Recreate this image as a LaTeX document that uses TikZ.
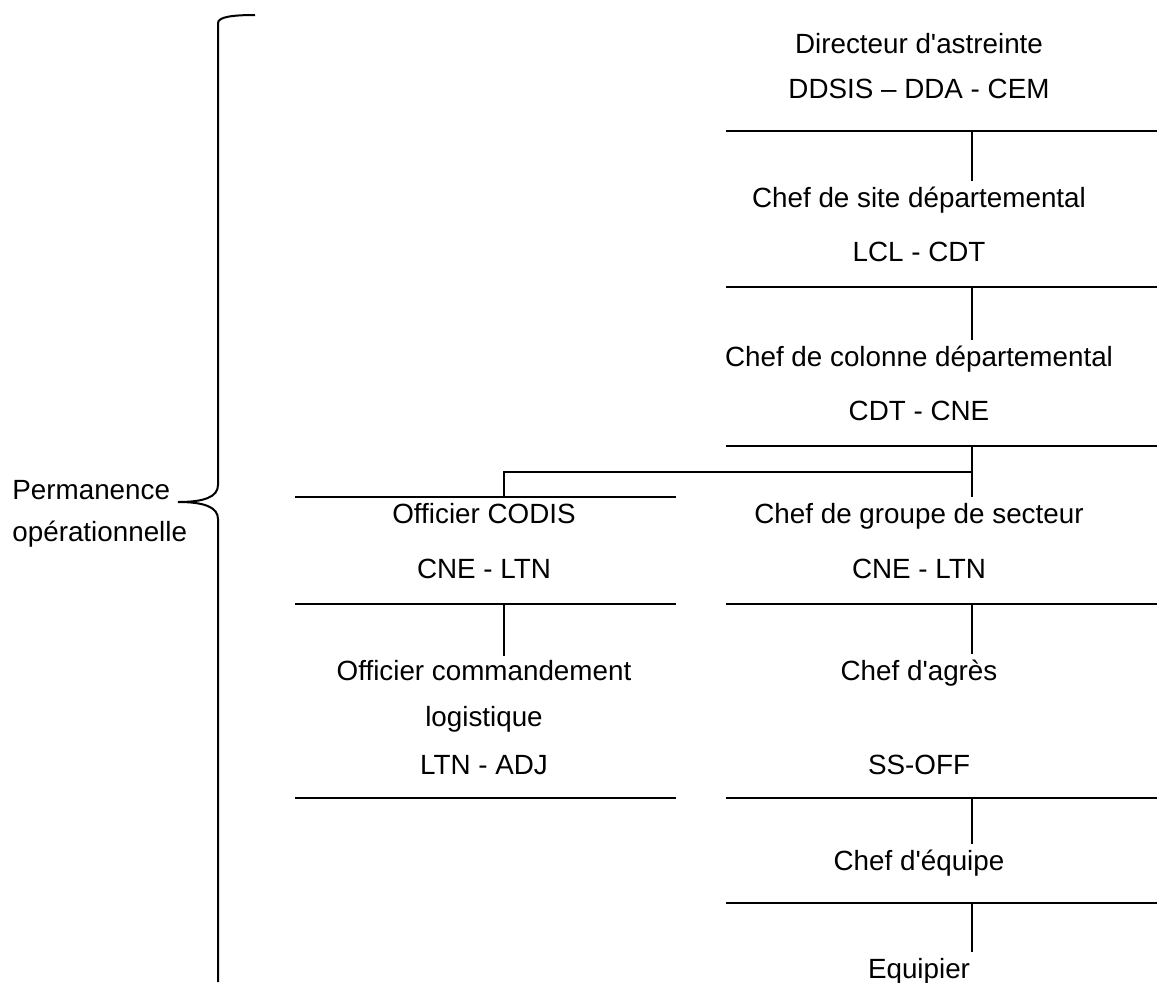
\documentclass[tikz,border=0pt]{standalone}
\usepackage{fontspec}
\setmainfont{Liberation Sans}

\begin{document}
\begin{tikzpicture}[x=0.5pt, y=-0.5pt,
  lbl/.style={font=\fontsize{13.9}{17}\selectfont, inner xsep=0pt, inner ysep=3pt,
    text height=0.72em, text depth=0.21em, anchor=base},
  rule/.style={line width=1pt},
  link/.style={line width=0.65pt, shorten >=2.5pt}]

\useasboundingbox (0,0) rectangle (1157,982);

% Brace
\draw[line width=1pt] (255,15) .. controls (232,15) and (218,17) .. (218,23)
  -- (218,485) .. controls (218,497) and (204,502) .. (178,502)
  .. controls (204,502) and (218,507) .. (218,519) -- (218,982);
\node[lbl, anchor=base west] (perm) at (12,499) {Permanence};
\node[lbl, anchor=base west] (perm2) at (12,541) {opérationnelle};

% Right column
\node[lbl] (dir) at (919,53) {Directeur d\textquotesingle astreinte};
\node[lbl] (dirg) at (919,98) {DDSIS – DDA - CEM};
\node[lbl] (site) at (919,207) {Chef de site départemental};
\node[lbl] (siteg) at (919,261) {LCL - CDT};
\node[lbl] (col) at (919,366) {Chef de colonne départemental};
\node[lbl] (colg) at (919,420) {CDT - CNE};
\node[lbl] (grp) at (919,523) {Chef de groupe de secteur};
\node[lbl] (grpg) at (919,578) {CNE - LTN};
\node[lbl] (agr) at (919,680) {Chef d\textquotesingle agrès};
\node[lbl] (agrg) at (919,774) {SS-OFF};
\node[lbl] (eqp) at (919,870) {Chef d\textquotesingle équipe};
\node[lbl] (eqr) at (919,978) {Equipier};

% Left column
\node[lbl] (codis) at (484,523) {Officier CODIS};
\node[lbl] (codisg) at (484,578) {CNE - LTN};
\node[lbl] (cmd) at (484,680) {Officier commandement};
\node[lbl] (cmd2) at (484,726) {logistique};
\node[lbl] (cmdg) at (484,774) {LTN - ADJ};

% Rules
\coordinate (R1) at (726,131);
\coordinate (R2) at (726,287);
\coordinate (R3) at (726,446);
\coordinate (R4) at (726,604);
\coordinate (R5) at (726,798);
\coordinate (R6) at (726,903);
\coordinate (L1) at (295,497);
\coordinate (L2) at (295,604);
\coordinate (L3) at (295,798);
\draw[rule] (R1) -- ++(431,0) (R2) -- ++(431,0) (R3) -- ++(431,0);
\draw[rule] (R4) -- ++(431,0) (R5) -- ++(431,0) (R6) -- ++(431,0);
\draw[rule] (L1) -- ++(381,0) (L2) -- ++(381,0) (L3) -- ++(381,0);

% Connectors
\coordinate (C1) at (972,131);
\coordinate (C2) at (972,287);
\coordinate (C3) at (972,446);
\coordinate (C4) at (972,604);
\coordinate (C5) at (972,798);
\coordinate (C6) at (972,903);
\coordinate (J) at (972,472);
\coordinate (CL1) at (504,497);
\coordinate (CL2) at (504,604);
\draw[link] (C1) -- (C1 |- site.north);
\draw[link] (C2) -- (C2 |- col.north);
\draw[link] (C3) -- (C3 |- grp.north);
\draw[link] (C4) -- (C4 |- agr.north);
\draw[link] (C5) -- (C5 |- eqp.north);
\draw[link] (C6) -- (C6 |- eqr.north);
\draw[link, shorten >=0pt] (J) -| (CL1);
\draw[line width=1.4pt, shorten >=1.5pt] (CL2) -- (CL2 |- cmd.north);

\end{tikzpicture}
\end{document}
